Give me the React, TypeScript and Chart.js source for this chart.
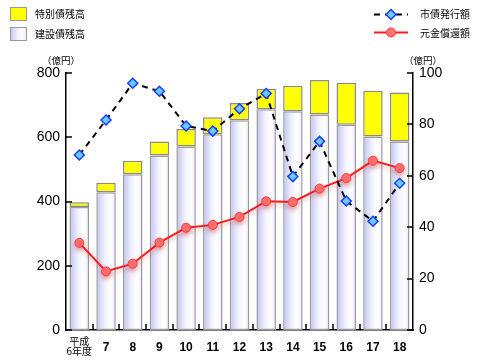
import React, { useEffect, useRef } from "react";
import { Chart, registerables } from "chart.js";

Chart.register(...registerables);

const categories: (string | string[])[] = [["平成", "6年度"], "7", "8", "9", "10", "11", "12", "13", "14", "15", "16", "17", "18"];
const constructionDebt = [383, 429, 485, 543, 571, 609, 653, 687, 681, 671, 639, 602, 587];
const specialDebt = [15, 29, 42, 44, 55, 53, 54, 64, 79, 107, 131, 143, 152];
const bondIssuance = [68.1, 81.7, 96.0, 92.9, 79.4, 77.4, 86.1, 92.0, 59.7, 73.4, 50.2, 42.3, 57.1];
const principalRepayment = [33.9, 22.8, 25.8, 34.0, 39.8, 40.9, 44.0, 50.1, 49.8, 55.0, 59.1, 65.9, 63.0];
const leftTicks = [0, 200, 400, 600, 800];
const rightTicks = [0, 20, 40, 60, 80, 100];

const LEGEND_FONT = "10px 'Noto Sans CJK JP', sans-serif";
const SANS = "'Liberation Sans', Arial, sans-serif";

function barGradient(ctx: CanvasRenderingContext2D, cx: number, hw: number) {
  const g = ctx.createLinearGradient(cx - hw, 0, cx + hw, 0);
  g.addColorStop(0, "#c0c0f0");
  g.addColorStop(0.45, "#f2f2ff");
  g.addColorStop(0.75, "#ffffff");
  g.addColorStop(1, "#e4e4fa");
  return g;
}

const decorPlugin = {
  id: "decor",
  beforeDatasetDraw(chart: any, args: any) {
    if (args.index === 2) {
      const ctx = chart.ctx;
      ctx.save();
      ctx.shadowColor = "rgba(200,40,40,0.35)";
      ctx.shadowBlur = 4;
      ctx.shadowOffsetY = 3;
    }
  },
  afterDatasetDraw(chart: any, args: any) {
    if (args.index === 2) chart.ctx.restore();
  },
  afterDraw(chart: any) {
    const ctx: CanvasRenderingContext2D = chart.ctx;
    const { left, right, bottom } = chart.chartArea;
    const x = chart.scales.x;
    const y = chart.scales.y;
    const y1 = chart.scales.y1;
    ctx.save();
    ctx.strokeStyle = "#000";
    ctx.lineWidth = 1.5;
    ctx.beginPath();
    leftTicks.forEach((v) => {
      const py = Math.round(y.getPixelForValue(v));
      ctx.moveTo(left, py);
      ctx.lineTo(left + 6, py);
    });
    rightTicks.forEach((v) => {
      const py = Math.round(y1.getPixelForValue(v));
      ctx.moveTo(right, py);
      ctx.lineTo(right - 6, py);
    });
    for (let i = 0; i < categories.length - 1; i++) {
      const px = Math.round(x.getPixelForValue(i + 0.5));
      ctx.moveTo(px, bottom);
      ctx.lineTo(px, bottom - 6);
    }
    ctx.stroke();

    // first category label (two lines)
    const first = categories[0] as string[];
    const fx = x.getPixelForValue(0);
    ctx.fillStyle = "#000";
    ctx.font = "10px 'Noto Sans CJK JP', sans-serif";
    ctx.textAlign = "center";
    ctx.textBaseline = "middle";
    ctx.fillText(first[0], fx, bottom + 11);
    ctx.fillText(first[1], fx, bottom + 21);

    // unit labels
    ctx.font = "9.5px 'Noto Sans CJK JP', sans-serif";
    ctx.fillText("（億円）", 61, 60);
    ctx.fillText("（億円）", 423, 60);

    // left legend
    ctx.lineWidth = 1;
    ctx.fillStyle = "#ffff00";
    ctx.fillRect(10, 7, 17, 14);
    ctx.strokeStyle = "#999";
    ctx.strokeRect(10.5, 7.5, 16, 13);
    ctx.fillStyle = barGradient(ctx, 18.5, 8.5);
    ctx.fillRect(10, 27, 17, 14);
    ctx.strokeRect(10.5, 27.5, 16, 13);
    ctx.fillStyle = "#000";
    ctx.font = LEGEND_FONT;
    ctx.textAlign = "left";
    ctx.fillText("特別債残高", 35, 14.5);
    ctx.fillText("建設債残高", 35, 34);

    // right legend
    ctx.strokeStyle = "#000";
    ctx.lineWidth = 2;
    ctx.setLineDash([6, 5]);
    ctx.beginPath();
    ctx.moveTo(374, 14.5);
    ctx.lineTo(408, 14.5);
    ctx.stroke();
    ctx.setLineDash([]);
    ctx.beginPath();
    ctx.moveTo(391, 9.5);
    ctx.lineTo(396, 14.5);
    ctx.lineTo(391, 19.5);
    ctx.lineTo(386, 14.5);
    ctx.closePath();
    ctx.fillStyle = "#66ccff";
    ctx.fill();
    ctx.strokeStyle = "#1a3cff";
    ctx.lineWidth = 1.5;
    ctx.stroke();
    ctx.strokeStyle = "#ff1a1a";
    ctx.lineWidth = 2;
    ctx.beginPath();
    ctx.moveTo(374, 32.5);
    ctx.lineTo(408, 32.5);
    ctx.stroke();
    ctx.beginPath();
    ctx.arc(391, 32.5, 4.5, 0, Math.PI * 2);
    ctx.fillStyle = "#ff7272";
    ctx.fill();
    ctx.strokeStyle = "#ff3a3a";
    ctx.lineWidth = 1;
    ctx.stroke();
    ctx.fillStyle = "#000";
    ctx.font = LEGEND_FONT;
    ctx.fillText("市債発行額", 420, 14.5);
    ctx.fillText("元金償還額", 420, 33);
    ctx.restore();
  },
};

export default function App() {
  const ref = useRef<HTMLCanvasElement>(null);
  useEffect(() => {
    document.body.style.margin = "0";
    const canvas = ref.current!;
    const chart = new Chart(canvas, {
      type: "bar",
      data: {
        labels: categories,
        datasets: [
          {
            type: "bar",
            label: "建設債残高",
            data: constructionDebt,
            yAxisID: "y",
            order: 3,
            backgroundColor: (c: any) => {
              const xs = c.chart.scales && c.chart.scales.x;
              if (!xs || c.dataIndex === undefined) return "#eeeefc";
              const cx = xs.getPixelForValue(c.dataIndex);
              if (!isFinite(cx)) return "#eeeefc";
              return barGradient(c.chart.ctx, cx, 10);
            },
            borderColor: "#9a9a9a",
            borderWidth: 1.5,
            borderSkipped: false,
            barPercentage: 0.73,
            categoryPercentage: 1,
          },
          {
            type: "bar",
            label: "特別債残高",
            data: specialDebt,
            yAxisID: "y",
            order: 3,
            backgroundColor: "#ffff00",
            borderColor: "#8a8a8a",
            borderWidth: 1.5,
            borderSkipped: false,
            barPercentage: 0.73,
            categoryPercentage: 1,
          },
          {
            type: "line",
            label: "元金償還額",
            data: principalRepayment,
            yAxisID: "y1",
            order: 2,
            borderColor: "#ff1a1a",
            borderWidth: 2,
            pointStyle: "circle",
            pointRadius: 4.5,
            pointBackgroundColor: "#ff7272",
            pointBorderColor: "#ff3a3a",
            pointBorderWidth: 1,
            tension: 0,
          },
          {
            type: "line",
            label: "市債発行額",
            data: bondIssuance,
            yAxisID: "y1",
            order: 1,
            borderColor: "#000",
            borderWidth: 2,
            borderDash: [6, 5],
            pointStyle: "rectRot",
            pointRadius: 5,
            pointBackgroundColor: "#66ccff",
            pointBorderColor: "#1a3cff",
            pointBorderWidth: 1.5,
            tension: 0,
          },
        ] as any,
      },
      options: {
        responsive: false,
        animation: false,
        layout: { padding: { top: 73, left: 0, right: 0, bottom: 0 } },
        plugins: { legend: { display: false }, tooltip: { enabled: false } },
        scales: {
          x: {
            stacked: true,
            grid: { display: false, drawTicks: false },
            border: { display: true, color: "#000", width: 1.5 },
            ticks: {
              color: "#000",
              padding: 10,
              autoSkip: false,
              maxRotation: 0,
              callback: (_v: any, i: number) => (i === 0 ? "" : (categories[i] as string)),
              font: { family: SANS, size: 12, weight: "bold" },
            },
            afterFit: (s: any) => {
              s.height = 30;
            },
          },
          y: {
            stacked: true,
            position: "left",
            min: 0,
            max: 800,
            grid: { display: false, drawTicks: false },
            border: { display: true, color: "#000", width: 1.5 },
            ticks: { stepSize: 200, color: "#000", padding: 6, font: { family: SANS, size: 14 } },
            afterFit: (s: any) => {
              s.width = 66;
            },
          },
          y1: {
            position: "right",
            min: 0,
            max: 100,
            grid: { display: false, drawTicks: false },
            border: { display: true, color: "#000", width: 1.5 },
            ticks: { stepSize: 20, color: "#000", padding: 6, font: { family: SANS, size: 14 } },
            afterFit: (s: any) => {
              s.width = 67;
            },
          },
        },
      } as any,
      plugins: [decorPlugin],
    });
    return () => chart.destroy();
  }, []);
  return (
    <div style={{ width: 480, height: 360, background: "#fff" }}>
      <canvas ref={ref} width={480} height={360} style={{ display: "block" }} />
    </div>
  );
}
